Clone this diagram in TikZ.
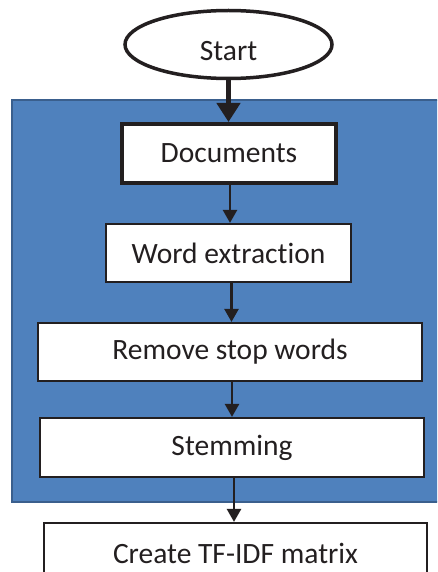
\documentclass[tikz,border=0pt]{standalone}
\usepackage{fontspec}
\setmainfont[Ligatures=NoCommon]{Carlito}
\usetikzlibrary{shapes.geometric,arrows.meta}
\definecolor{panelblue}{HTML}{4F81BD}
\definecolor{paneledge}{HTML}{3A5F8D}
\definecolor{ink}{HTML}{231F20}
\tikzset{
  labelfont/.style={font=\fontsize{29.5}{35}\selectfont},
  stepbox/.style={draw=ink, fill=white, line width=2.2pt, rectangle, inner sep=0pt, text=ink, labelfont},
  flow/.style={draw=ink, line width=2.6pt, -{Triangle[width=14pt,length=13pt]}},
  bigflow/.style={draw=ink, line width=4.5pt, -{Triangle[width=23pt,length=19pt]}},
}
\begin{document}
\begin{tikzpicture}[x=1pt,y=-1pt]
\useasboundingbox (0,0) rectangle (437,572);
\clip (0,0) rectangle (437,572);
\fill[white] (0,0) rectangle (437,572);
% panel
\draw[fill=panelblue, draw=paneledge, line width=2pt] (12,100) rectangle (445,502);
% nodes
\node[ellipse, draw=ink, fill=white, line width=3.5pt, minimum width=207pt, minimum height=68pt, inner sep=0pt, text=ink,
  labelfont] (start) at (228.5,44.5) {\raisebox{-6pt}[\height][0pt]{Start}};
\node[stepbox, line width=4pt, minimum width=214pt, minimum height=59pt] (doc) at (229,153.5) {Documents};
\node[stepbox, minimum width=245pt, minimum height=58pt] (word) at (228.5,253) {Word extraction};
\node[stepbox, minimum width=384pt, minimum height=58pt] (remove) at (230,352) {Remove stop words};
\node[stepbox, minimum width=384pt, minimum height=59pt] (stem) at (232,447.5) {Stemming};
\node[stepbox, minimum width=383pt, minimum height=60pt] (tfidf) at (235.5,553) {Create TF-IDF matrix};
% connectors
\draw[bigflow] (start.south) -- (start.south |- doc.north);
\draw[flow] ([xshift=1pt]doc.south) -- ([xshift=1pt]doc.south |- word.north);
\draw[flow] ([xshift=3pt]word.south) -- ([xshift=3pt]word.south |- remove.north);
\draw[flow] ([xshift=2pt]remove.south) -- ([xshift=2pt]remove.south |- stem.north);
\draw[flow] ([xshift=2pt]stem.south) -- ([xshift=2pt]stem.south |- tfidf.north);
\end{tikzpicture}
\end{document}
